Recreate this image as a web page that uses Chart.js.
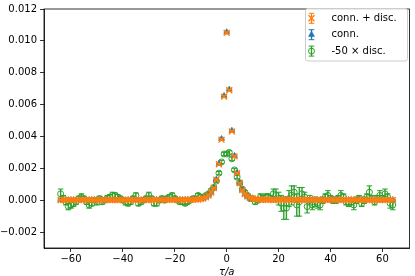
<!DOCTYPE html>
<html><head><meta charset="utf-8">
<script src="https://cdn.jsdelivr.net/npm/chart.js@4/dist/chart.umd.min.js"></script>
<style>html,body{margin:0;padding:0;background:#fff}#wrap{width:415px;height:276px;position:relative}</style>
</head><body><div id="wrap"><canvas id="c" width="415" height="276"></canvas></div>
<script>
const tau = [
-64,-63,-62,-61,-60,-59,-58,-57,-56,-55,
-54,-53,-52,-51,-50,-49,-48,-47,-46,-45,
-44,-43,-42,-41,-40,-39,-38,-37,-36,-35,
-34,-33,-32,-31,-30,-29,-28,-27,-26,-25,
-24,-23,-22,-21,-20,-19,-18,-17,-16,-15,
-14,-13,-12,-11,-10,-9,-8,-7,-6,-5,
-4,-3,-2,-1,0,1,2,3,4,5,
6,7,8,9,10,11,12,13,14,15,
16,17,18,19,20,21,22,23,24,25,
26,27,28,29,30,31,32,33,34,35,
36,37,38,39,40,41,42,43,44,45,
46,47,48,49,50,51,52,53,54,55,
56,57,58,59,60,61,62,63,64];

const connDisc = [
0.00001,0.00001,0.00002,0.00003,0.00002,0.00002,0.00001,0.00001,0.00002,0.00002,
0.00001,0.00003,0.00002,0.00001,0.00001,0.00002,0.00002,0.00001,0.00002,0.00001,
0.00001,0.00001,0.00001,0.00002,0.00002,0.00001,0.00002,0.00002,0.00001,0.00001,
0.00002,0.00001,0.00002,0.00002,0.00001,0.00001,0.00002,0.00002,0.00002,0.00002,
0.00002,0.00002,0.00002,0.00002,0.00002,0.00002,0.00003,0.00002,0.00003,0.00003,
0.00003,0.00003,0.00004,0.00004,0.00007,0.00011,0.00019,0.0003,0.00048,0.00077,
0.00128,0.00226,0.0038,0.0065,0.0105,0.0069,0.00432,0.00275,0.0017,0.00106,
0.00064,0.00039,0.00023,0.00015,0.0001,0.00007,0.00005,0.00004,0.00003,0.00003,
0.00003,0.00003,0.00001,0.00002,0.00002,0.00002,0.00003,0.00003,0.00002,0.00002,
0.00001,0.00003,0.00002,0.00001,0.00002,0.00003,0.00002,0.00003,0.00002,0.00002,
0.00002,0.00001,0.00002,0.00001,0.00002,0.00001,0.00002,0.00002,0.00001,0.00002,
0.00002,0.00002,0.00001,0.00003,0.00002,0.00002,0.00002,0.00002,0.00001,0.00001,
0.00002,0.00002,0.00002,0.00001,0.00002,0.00001,0.00002,0.00002,0.00002];

const connDiscErr = [
0.00003,0.00003,0.00003,0.00004,0.00003,0.00003,0.00003,0.00003,0.00003,0.00003,
0.00003,0.00003,0.00003,0.00003,0.00003,0.00003,0.00003,0.00003,0.00003,0.00003,
0.00003,0.00003,0.00003,0.00003,0.00003,0.00003,0.00003,0.00003,0.00003,0.00003,
0.00003,0.00003,0.00003,0.00003,0.00003,0.00003,0.00003,0.00003,0.00003,0.00003,
0.00003,0.00003,0.00003,0.00003,0.00003,0.00003,0.00003,0.00003,0.00003,0.00003,
0.00003,0.00003,0.00003,0.00003,0.00003,0.00003,0.00003,0.00003,0.00004,0.00004,
0.00004,0.00005,0.00005,0.00006,0.00006,0.00006,0.00005,0.00005,0.00004,0.00004,
0.00004,0.00003,0.00003,0.00003,0.00003,0.00003,0.00003,0.00003,0.00003,0.00003,
0.00003,0.00003,0.00003,0.00003,0.00004,0.00004,0.00004,0.00004,0.00003,0.00003,
0.00003,0.00004,0.00003,0.00003,0.00003,0.00003,0.00003,0.00003,0.00003,0.00003,
0.00003,0.00003,0.00003,0.00003,0.00003,0.00003,0.00003,0.00003,0.00003,0.00003,
0.00003,0.00003,0.00003,0.00003,0.00003,0.00003,0.00003,0.00003,0.00003,0.00003,
0.00003,0.00003,0.00003,0.00003,0.00003,0.00003,0.00003,0.00003,0.00004];

const conn = [
0.00002,0.00001,0.00002,0.00002,0.00001,0.00002,0.00001,0.00001,0.00002,0.00002,
0.00001,0.00002,0.00002,0.00001,0.00001,0.00002,0.00002,0.00001,0.00002,0.00001,
0.00002,0.00002,0.00001,0.00002,0.00002,0.00001,0.00002,0.00002,0.00001,0.00002,
0.00002,0.00001,0.00002,0.00002,0.00002,0.00001,0.00002,0.00002,0.00002,0.00002,
0.00002,0.00002,0.00002,0.00003,0.00002,0.00002,0.00003,0.00002,0.00003,0.00003,
0.00003,0.00003,0.00004,0.00005,0.00008,0.00012,0.0002,0.00031,0.00049,0.00079,
0.0013,0.00229,0.00385,0.00655,0.01055,0.00695,0.00437,0.00279,0.00173,0.00108,
0.00065,0.0004,0.00024,0.00015,0.0001,0.00007,0.00005,0.00004,0.00003,0.00003,
0.00003,0.00003,0.00002,0.00002,0.00002,0.00002,0.00002,0.00002,0.00002,0.00002,
0.00002,0.00002,0.00002,0.00001,0.00002,0.00002,0.00002,0.00002,0.00001,0.00002,
0.00002,0.00002,0.00001,0.00002,0.00002,0.00002,0.00001,0.00002,0.00002,0.00001,
0.00002,0.00002,0.00002,0.00001,0.00002,0.00002,0.00002,0.00001,0.00002,0.00002,
0.00002,0.00001,0.00002,0.00002,0.00002,0.00002,0.00001,0.00002,0.00002];

const connErr = [
0.00002,0.00002,0.00002,0.00002,0.00002,0.00002,0.00002,0.00002,0.00002,0.00002,
0.00002,0.00002,0.00002,0.00002,0.00002,0.00002,0.00002,0.00002,0.00002,0.00002,
0.00002,0.00002,0.00002,0.00002,0.00002,0.00002,0.00002,0.00002,0.00002,0.00002,
0.00002,0.00002,0.00002,0.00002,0.00002,0.00002,0.00002,0.00002,0.00002,0.00002,
0.00002,0.00002,0.00002,0.00002,0.00002,0.00002,0.00002,0.00002,0.00002,0.00002,
0.00002,0.00002,0.00002,0.00002,0.00002,0.00002,0.00002,0.00003,0.00003,0.00003,
0.00003,0.00003,0.00004,0.00004,0.00004,0.00004,0.00004,0.00003,0.00003,0.00003,
0.00003,0.00002,0.00002,0.00002,0.00002,0.00002,0.00002,0.00002,0.00002,0.00002,
0.00002,0.00002,0.00002,0.00002,0.00002,0.00002,0.00002,0.00002,0.00002,0.00002,
0.00002,0.00002,0.00002,0.00002,0.00002,0.00002,0.00002,0.00002,0.00002,0.00002,
0.00002,0.00002,0.00002,0.00002,0.00002,0.00002,0.00002,0.00002,0.00002,0.00002,
0.00002,0.00002,0.00002,0.00002,0.00002,0.00002,0.00002,0.00002,0.00002,0.00002,
0.00002,0.00002,0.00002,0.00002,0.00002,0.00002,0.00002,0.00002,0.00002];

const disc50 = [
0.0004,0.0001,-0.0001,-0.0004,-0.0003,-0.0002,-0.0001,0.0001,0.0002,0.0001,
-0.0001,-0.0003,-0.0002,0,-0.0001,0.0001,-0.0001,0,0.0001,0.0002,
0.0003,0.0003,0.0002,0.0001,0,-0.0001,-0.0002,-0.0001,0.0001,0.0003,
-0.0002,-0.0001,0,0.0001,0.0003,0.0001,-0.0002,-0.0002,0,0.0001,
0,0.0001,0.0002,0.0003,0.0001,0,-0.0001,-0.0001,-0.0002,-0.0001,
0,0.0001,0.0001,0.0003,0.0002,0.0002,0.0003,0.0004,0.0006,0.0008,
0.0012,0.0017,0.0024,0.0029,0.0029,0.003,0.0026,0.0019,0.00145,0.0011,
0.0007,0.0005,0.0003,0.0001,0.0001,-0.0001,0,0.0002,0.0001,0.0002,
0.0002,0.0001,0.0004,0.0003,0.0001,-0.0002,-0.0005,-0.0005,0.0001,0.0003,
0.0005,-0.0003,-0.0001,0.0004,0.0002,-0.0004,0,-0.0003,-0.0001,-0.0002,
-0.0003,0,0.0002,0.0003,0.0001,0,0,0.0001,0.0003,0.0002,
-0.0001,-0.0002,-0.0001,-0.0003,0,0.0001,-0.0002,0,0.0002,0.0005,
0.0001,-0.0001,0.0001,0.0003,0.0001,0.0004,0.0002,-0.0002,-0.0003];

const disc50Err = [
0.0003,0.0002,0.0002,0.0002,0.0002,0.0002,0.00015,0.00015,0.0002,0.00015,
0.00015,0.0002,0.00015,0.00015,0.0002,0.00015,0.00015,0.00015,0.0002,0.00015,
0.0002,0.00015,0.00015,0.00015,0.00015,0.0002,0.00015,0.00015,0.00015,0.00015,
0.00015,0.00015,0.00015,0.00015,0.0002,0.00015,0.00015,0.00015,0.00015,0.00015,
0.00015,0.00015,0.00015,0.00015,0.00015,0.00015,0.00015,0.00015,0.00012,0.00012,
0.00012,0.00012,0.00012,0.00012,0.00012,0.0001,0.0001,0.0001,0.0001,0.0001,
0.0001,0.0001,0.0001,0.0001,0.0001,0.0001,0.0001,0.0001,0.0001,0.0001,
0.0001,0.0001,0.0001,0.00012,0.00012,0.00015,0.00015,0.0002,0.0002,0.0002,
0.0002,0.0002,0.0003,0.0004,0.0004,0.0005,0.0007,0.0007,0.0005,0.0006,
0.0004,0.0007,0.0009,0.0004,0.0003,0.0004,0.0003,0.0003,0.0003,0.0003,
0.0003,0.0002,0.0002,0.0003,0.0002,0.0002,0.0002,0.0002,0.0003,0.0002,
0.0002,0.0002,0.0002,0.0003,0.0002,0.0002,0.0002,0.0002,0.0002,0.0004,
0.0002,0.0002,0.0002,0.0003,0.0002,0.0003,0.0002,0.0003,0.0003];

const xTicks = [-60, -40, -20, 0, 20, 40, 60];
const yTicks = [-0.002, 0, 0.002, 0.004, 0.006, 0.008, 0.010, 0.012];
const labels = ['conn. + disc.', 'conn.', '-50 \u00d7 disc.'];

const FONT = 'DejaVu Sans';
const minus = s => s.replace('-', '\u2212');

function drawMarker(ctx, style, r, cx, cy, color, lw) {
  ctx.save();
  ctx.strokeStyle = color; ctx.fillStyle = color; ctx.lineWidth = lw;
  ctx.beginPath();
  if (style === 'crossRot') {
    const d = r * 0.7071;
    ctx.moveTo(cx - d, cy - d); ctx.lineTo(cx + d, cy + d);
    ctx.moveTo(cx - d, cy + d); ctx.lineTo(cx + d, cy - d);
    ctx.stroke();
  } else if (style === 'triangle') {
    ctx.moveTo(cx, cy - r);
    ctx.lineTo(cx + r * 0.866, cy + r * 0.5);
    ctx.lineTo(cx - r * 0.866, cy + r * 0.5);
    ctx.closePath(); ctx.fill(); ctx.stroke();
  } else {
    ctx.arc(cx, cy, r, 0, Math.PI * 2); ctx.stroke();
  }
  ctx.restore();
}

const errorBarPlugin = {
  id: 'errorBars',
  beforeDatasetDraw(chart, args) {
    const ds = chart.data.datasets[args.index];
    if (!ds.errors) return;
    const {ctx, chartArea: a, scales: {x, y}} = chart;
    ctx.save();
    ctx.beginPath(); ctx.rect(a.left, a.top, a.right - a.left, a.bottom - a.top); ctx.clip();
    ctx.strokeStyle = ds.borderColor;
    ds.data.forEach((p, i) => {
      const e = ds.errors[i];
      const px = x.getPixelForValue(p.x);
      const y1 = y.getPixelForValue(p.y - e), y2 = y.getPixelForValue(p.y + e);
      ctx.lineWidth = 1.4;
      ctx.beginPath(); ctx.moveTo(px, y1); ctx.lineTo(px, y2); ctx.stroke();
      ctx.lineWidth = 1;
      ctx.beginPath();
      ctx.moveTo(px - 2.8, y1); ctx.lineTo(px + 2.8, y1);
      ctx.moveTo(px - 2.8, y2); ctx.lineTo(px + 2.8, y2);
      ctx.stroke();
    });
    ctx.restore();
  }
};

const framePlugin = {
  id: 'frame',
  afterDatasetsDraw(chart) {
    const {ctx, chartArea: a} = chart;
    ctx.save();
    ctx.strokeStyle = '#000'; ctx.lineWidth = 0.8;
    ctx.strokeRect(a.left, a.top, a.right - a.left, a.bottom - a.top);
    ctx.restore();
  }
};

const legendPlugin = {
  id: 'mplLegend',
  afterDraw(chart) {
    const ctx = chart.ctx;
    const x0 = 305.5, y0 = 8.5, w = 102, h = 52.5, r = 2.5;
    ctx.save();
    ctx.beginPath();
    ctx.moveTo(x0 + r, y0); ctx.lineTo(x0 + w - r, y0); ctx.arcTo(x0 + w, y0, x0 + w, y0 + r, r);
    ctx.lineTo(x0 + w, y0 + h - r); ctx.arcTo(x0 + w, y0 + h, x0 + w - r, y0 + h, r);
    ctx.lineTo(x0 + r, y0 + h); ctx.arcTo(x0, y0 + h, x0, y0 + h - r, r);
    ctx.lineTo(x0, y0 + r); ctx.arcTo(x0, y0, x0 + r, y0, r);
    ctx.closePath();
    ctx.fillStyle = 'rgba(255,255,255,0.8)'; ctx.fill();
    ctx.strokeStyle = '#cccccc'; ctx.lineWidth = 1; ctx.stroke();
    const order = [0, 1, 2];
    order.forEach((di, row) => {
      const ds = chart.data.datasets[di];
      const cy = 18.3 + row * 16.4, cx = 311.5;
      ctx.strokeStyle = ds.borderColor;
      ctx.lineWidth = 1.4;
      ctx.beginPath(); ctx.moveTo(cx, cy - 5); ctx.lineTo(cx, cy + 5); ctx.stroke();
      ctx.lineWidth = 1;
      ctx.beginPath();
      ctx.moveTo(cx - 2.8, cy - 5); ctx.lineTo(cx + 2.8, cy - 5);
      ctx.moveTo(cx - 2.8, cy + 5); ctx.lineTo(cx + 2.8, cy + 5);
      ctx.stroke();
      drawMarker(ctx, ds.pointStyle, ds.pointRadius, cx, cy, ds.borderColor, ds.borderWidth);
      ctx.fillStyle = '#000';
      ctx.font = '10px "' + FONT + '"';
      ctx.textBaseline = 'middle'; ctx.textAlign = 'left';
      ctx.fillText(ds.label, 331.5, cy);
    });
    ctx.restore();
  }
};

Chart.defaults.font.family = FONT;
Chart.defaults.font.size = 10;
Chart.defaults.color = '#000';

const mk = arr => tau.map((t, i) => ({x: t, y: arr[i]}));

new Chart(document.getElementById('c'), {
  type: 'scatter',
  data: {
    datasets: [
      {label: labels[0], data: mk(connDisc), errors: connDiscErr, order: 0,
       pointStyle: 'crossRot', pointRadius: 4.2, borderColor: '#ff7f0e', backgroundColor: '#ff7f0e', borderWidth: 1.4, showLine: false},
      {label: labels[1], data: mk(conn), errors: connErr, order: 1,
       pointStyle: 'triangle', pointRadius: 3.4, borderColor: '#1f77b4', backgroundColor: '#1f77b4', borderWidth: 0.6, showLine: false},
      {label: labels[2], data: mk(disc50), errors: disc50Err, order: 2,
       pointStyle: 'circle', pointRadius: 3, borderColor: '#2ca02c', backgroundColor: 'rgba(0,0,0,0)', borderWidth: 1, showLine: false}
    ]
  },
  options: {
    responsive: false,
    animation: false,
    devicePixelRatio: 1,
    layout: {padding: {left: 0, right: 3, top: 4, bottom: 0}},
    plugins: {legend: {display: false}, tooltip: {enabled: false}},
    scales: {
      x: {
        type: 'linear', min: -70.4, max: 70.4,
        afterBuildTicks: s => { s.ticks = xTicks.map(v => ({value: v})); },
        afterFit: s => { s.height = 28; },
        ticks: {padding: 1, color: '#000', font: {size: 10}, callback: v => minus(String(v))},
        grid: {drawOnChartArea: false, drawTicks: true, tickLength: 4, color: '#000', lineWidth: 0.8},
        border: {display: true, color: '#000', width: 0.8},
        title: {display: true, text: '\u03c4/a', color: '#000', font: {size: 10, style: 'italic', lineHeight: 1}, padding: {top: 0, bottom: -1.5}}
      },
      y: {
        type: 'linear', min: -0.003, max: 0.012,
        afterBuildTicks: s => { s.ticks = yTicks.map(v => ({value: v})); },
        afterFit: s => { s.width = 44; },
        ticks: {padding: 3, color: '#000', font: {size: 10}, callback: v => minus(Number(v).toFixed(3))},
        grid: {drawOnChartArea: false, drawTicks: true, tickLength: 4, color: '#000', lineWidth: 0.8},
        border: {display: true, color: '#000', width: 0.8}
      }
    }
  },
  plugins: [errorBarPlugin, framePlugin, legendPlugin]
});
</script>
</body></html>
